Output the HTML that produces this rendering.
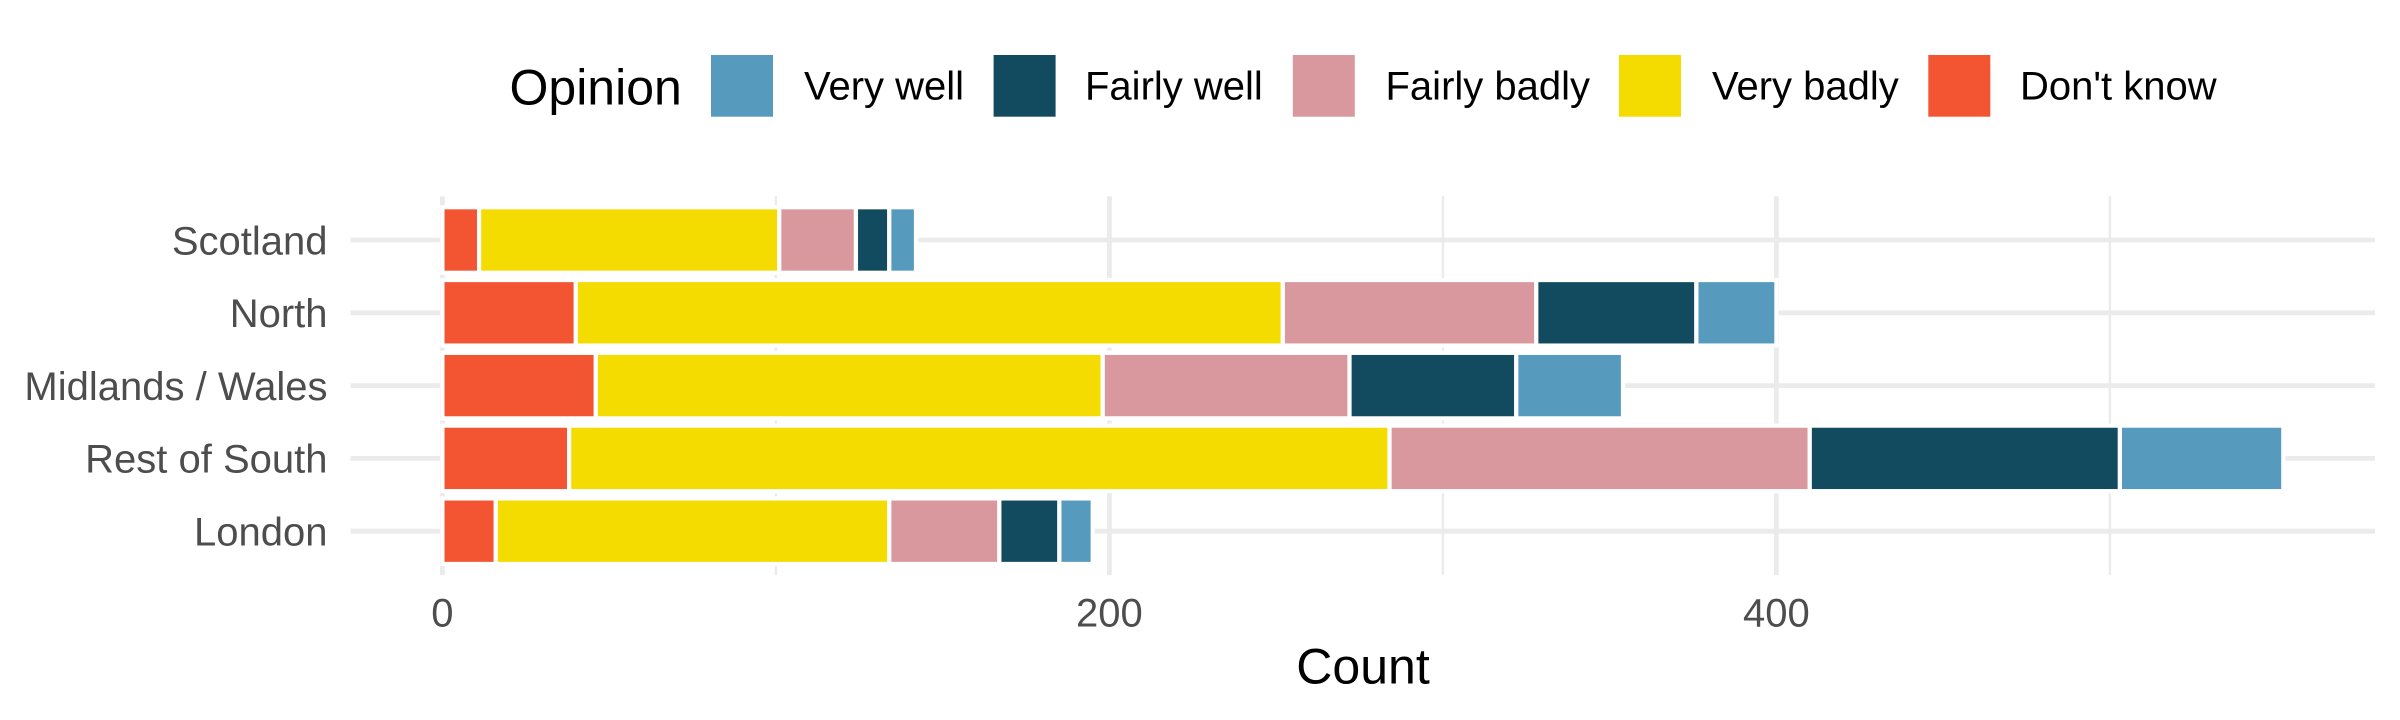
<!DOCTYPE html>
<html lang="en">
<head>
<meta charset="utf-8">
<title>Opinion by region</title>
<style>
  html, body { margin: 0; padding: 0; background: #ffffff; }
  svg { display: block; font-family: "Liberation Sans", Arial, sans-serif; }
</style>
</head>
<body>
<svg id="chart" xmlns="http://www.w3.org/2000/svg" width="2400" height="720" viewBox="0 0 2400 720">
  <rect x="0" y="0" width="2400" height="720" fill="#ffffff"/>
  <g id="grid"></g>
  <g id="bars"></g>
  <g id="y-axis" font-size="40" fill="#4d4d4d" text-anchor="end"></g>
  <g id="x-axis" font-size="40" fill="#4d4d4d" text-anchor="middle"></g>
  <text x="1363" y="683.3" font-size="50" fill="#000000" text-anchor="middle">Count</text>

  <g>
    <text x="509.5" y="104.3" font-size="50" fill="#000000">Opinion</text>

    <g>
      <rect x="711" y="55" width="62" height="61.7" fill="#569abe"/>
      <text x="804" y="99.5" font-size="40" fill="#000000">Very well</text>
    </g>
    <g>
      <rect x="993.6" y="55" width="62" height="61.7" fill="#124b5f"/>
      <text x="1085" y="99.5" font-size="40" fill="#000000">Fairly well</text>
    </g>
    <g>
      <rect x="1292.8" y="55" width="62" height="61.7" fill="#d9989e"/>
      <text x="1385.5" y="99.5" font-size="40" fill="#000000">Fairly badly</text>
    </g>
    <g>
      <rect x="1619" y="55" width="62" height="61.7" fill="#f4dc00"/>
      <text x="1712" y="99.5" font-size="40" fill="#000000">Very badly</text>
    </g>
    <g>
      <rect x="1928.3" y="55" width="62" height="61.7" fill="#f35432"/>
      <text x="2020" y="99.5" font-size="40" fill="#000000">Don't know</text>
    </g>
  </g>
</svg>

<script>
// ---- data ----
const categories = ["Scotland", "North", "Midlands / Wales", "Rest of South", "London"];
const dontKnow  = [11, 40, 46, 38, 16];
const veryBadly = [90, 212, 152, 246, 118];
const fairlyBadly = [23, 76, 74, 126, 33];
const fairlyWell = [10, 48, 50, 93, 18];
const veryWell  = [8, 24, 32, 49, 10];
const xMajorTicks = [0, 200, 400];
const xMinorTicks = [100, 300, 500];

// ---- series, in stacking order from the axis outward ----
const seriesList = [
  { key: "dont-know", values: dontKnow, color: "#f35432" },
  { key: "very-badly", values: veryBadly, color: "#f4dc00" },
  { key: "fairly-badly", values: fairlyBadly, color: "#d9989e" },
  { key: "fairly-well", values: fairlyWell, color: "#124b5f" },
  { key: "very-well", values: veryWell, color: "#569abe" }
];

// ---- axis functions ----
const NS = "http://www.w3.org/2000/svg";
const panelLeft = 350.5, panelRight = 2375, panelTop = 196.3, panelBottom = 575;
function xScale(v) { return 442.4 + 3.335 * v; }
function yScale(i) { return 240 + 72.8 * i; }
const bandHeight = 72.8 * 0.9;

function make(tag, attrs, parent) {
  const el = document.createElementNS(NS, tag);
  Object.keys(attrs).forEach(function (k) { el.setAttribute(k, attrs[k]); });
  parent.appendChild(el);
  return el;
}

const grid = document.getElementById("grid");
const bars = document.getElementById("bars");
const yAxis = document.getElementById("y-axis");
const xAxis = document.getElementById("x-axis");

// minor vertical grid lines
xMinorTicks.forEach(function (t) {
  const ln = make("line", { x1: xScale(t), x2: xScale(t), y1: panelTop, y2: panelBottom, stroke: "#ebebeb", "stroke-width": 2.4 }, grid);
  
  
});

// major vertical grid lines + tick labels
xMajorTicks.forEach(function (t) {
  const ln = make("line", { x1: xScale(t), x2: xScale(t), y1: panelTop, y2: panelBottom, stroke: "#ebebeb", "stroke-width": 4.8 }, grid);
  
  
  const lb = make("text", { x: xScale(t), y: 626.5 }, xAxis);
  
  
  lb.textContent = String(t);
});

// horizontal grid lines + category labels
categories.forEach(function (c, i) {
  const ln = make("line", { x1: panelLeft, x2: panelRight, y1: yScale(i), y2: yScale(i), stroke: "#ebebeb", "stroke-width": 4.8 }, grid);
  
  
  const lb = make("text", { x: 327.5, y: yScale(i) + 14.3 }, yAxis);
  
  
  lb.textContent = c;
});

// stacked bars
categories.forEach(function (c, i) {
  let running = 0;
  seriesList.forEach(function (s) {
    const v = s.values[i];
    const r = make("rect", {
      x: xScale(running),
      y: yScale(i) - bandHeight / 2,
      width: xScale(running + v) - xScale(running),
      height: bandHeight,
      fill: s.color,
      stroke: "#ffffff",
      "stroke-width": 4.2
    }, bars);
    
    
    running += v;
  });
});
</script>
</body>
</html>
